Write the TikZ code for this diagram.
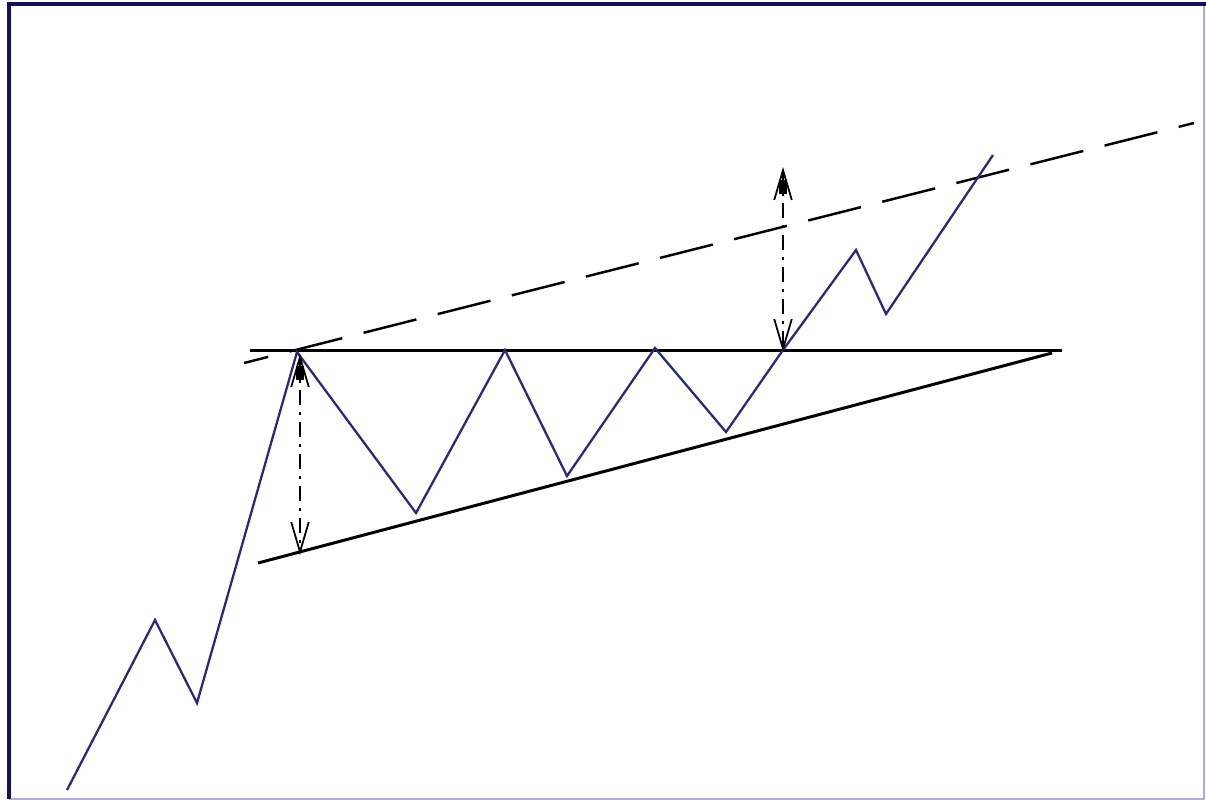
\documentclass[tikz,border=0pt]{standalone}
\usepackage{xcolor}
\usetikzlibrary{arrows.meta}
\definecolor{pricenavy}{RGB}{42,42,122}
\definecolor{framenavy}{RGB}{18,18,92}
\definecolor{framelight}{RGB}{170,170,230}

\begin{document}
\begin{tikzpicture}[
  x=0.02cm, y=-0.02cm,
  price/.style={pricenavy, line width=1.3pt, line join=miter},
  trend/.style={black, line width=1.7pt},
  target/.style={black, line width=1pt,
    dash pattern=on 8.5pt off 4pt on 1.7pt off 4pt,
    {Straight Barb[length=17pt, width=10pt, line width=1pt]}-{Straight Barb[length=17pt, width=10pt, line width=1pt]}}
]
\useasboundingbox (0,0) rectangle (1206,801);
\fill[white] (0,0) rectangle (1206,801);
\draw[framelight, line width=1pt] (9,799) -- (1204,799) -- (1204,4);
\draw[framenavy, line width=1.8pt] (9,799) -- (9,4) -- (1206,4);

\coordinate (p0)  at (67,790);
\coordinate (p1)  at (155,620);
\coordinate (p2)  at (197,703);
\coordinate (p3)  at (297,352);
\coordinate (p4)  at (416,513);
\coordinate (p5)  at (505,350);
\coordinate (p6)  at (567,476);
\coordinate (p7)  at (655,348);
\coordinate (p8)  at (726,432);
\coordinate (p9)  at (783,350);
\coordinate (p10) at (856,250);
\coordinate (p11) at (886,314);
\coordinate (p12) at (993,155);

\coordinate (resL) at (250,350.5);
\coordinate (resR) at (1062,350.5);
\coordinate (supL) at (258,563);
\coordinate (supR) at (1052,353);
\coordinate (chanL) at (244,363);
\coordinate (chanR) at (1194,123);

\draw[trend, line width=2pt] (resL) -- (resR);
\draw[trend] (supL) -- (supR);
\draw[trend, line width=1.4pt, dash pattern=on 31pt off 12.5pt, dash phase=16.8pt] (chanL) -- (chanR);

\draw[price] (p0) -- (p1) -- (p2) -- (p3) -- (p4) -- (p5) -- (p6)
  -- (p7) -- (p8) -- (p9) -- (p10) -- (p11) -- (p12);

\coordinate (h1top) at (300,354);
\coordinate (h1bot) at (300,555);
\coordinate (h2top) at (783,167);
\coordinate (h2bot) at (783,352);
\draw[target] (h1top) -- (h1bot);
\draw[target] (h2top) -- (h2bot);
\fill[black] (296,366) rectangle (304,380);
\fill[black] (779,180) rectangle (787,194);
\end{tikzpicture}
\end{document}
